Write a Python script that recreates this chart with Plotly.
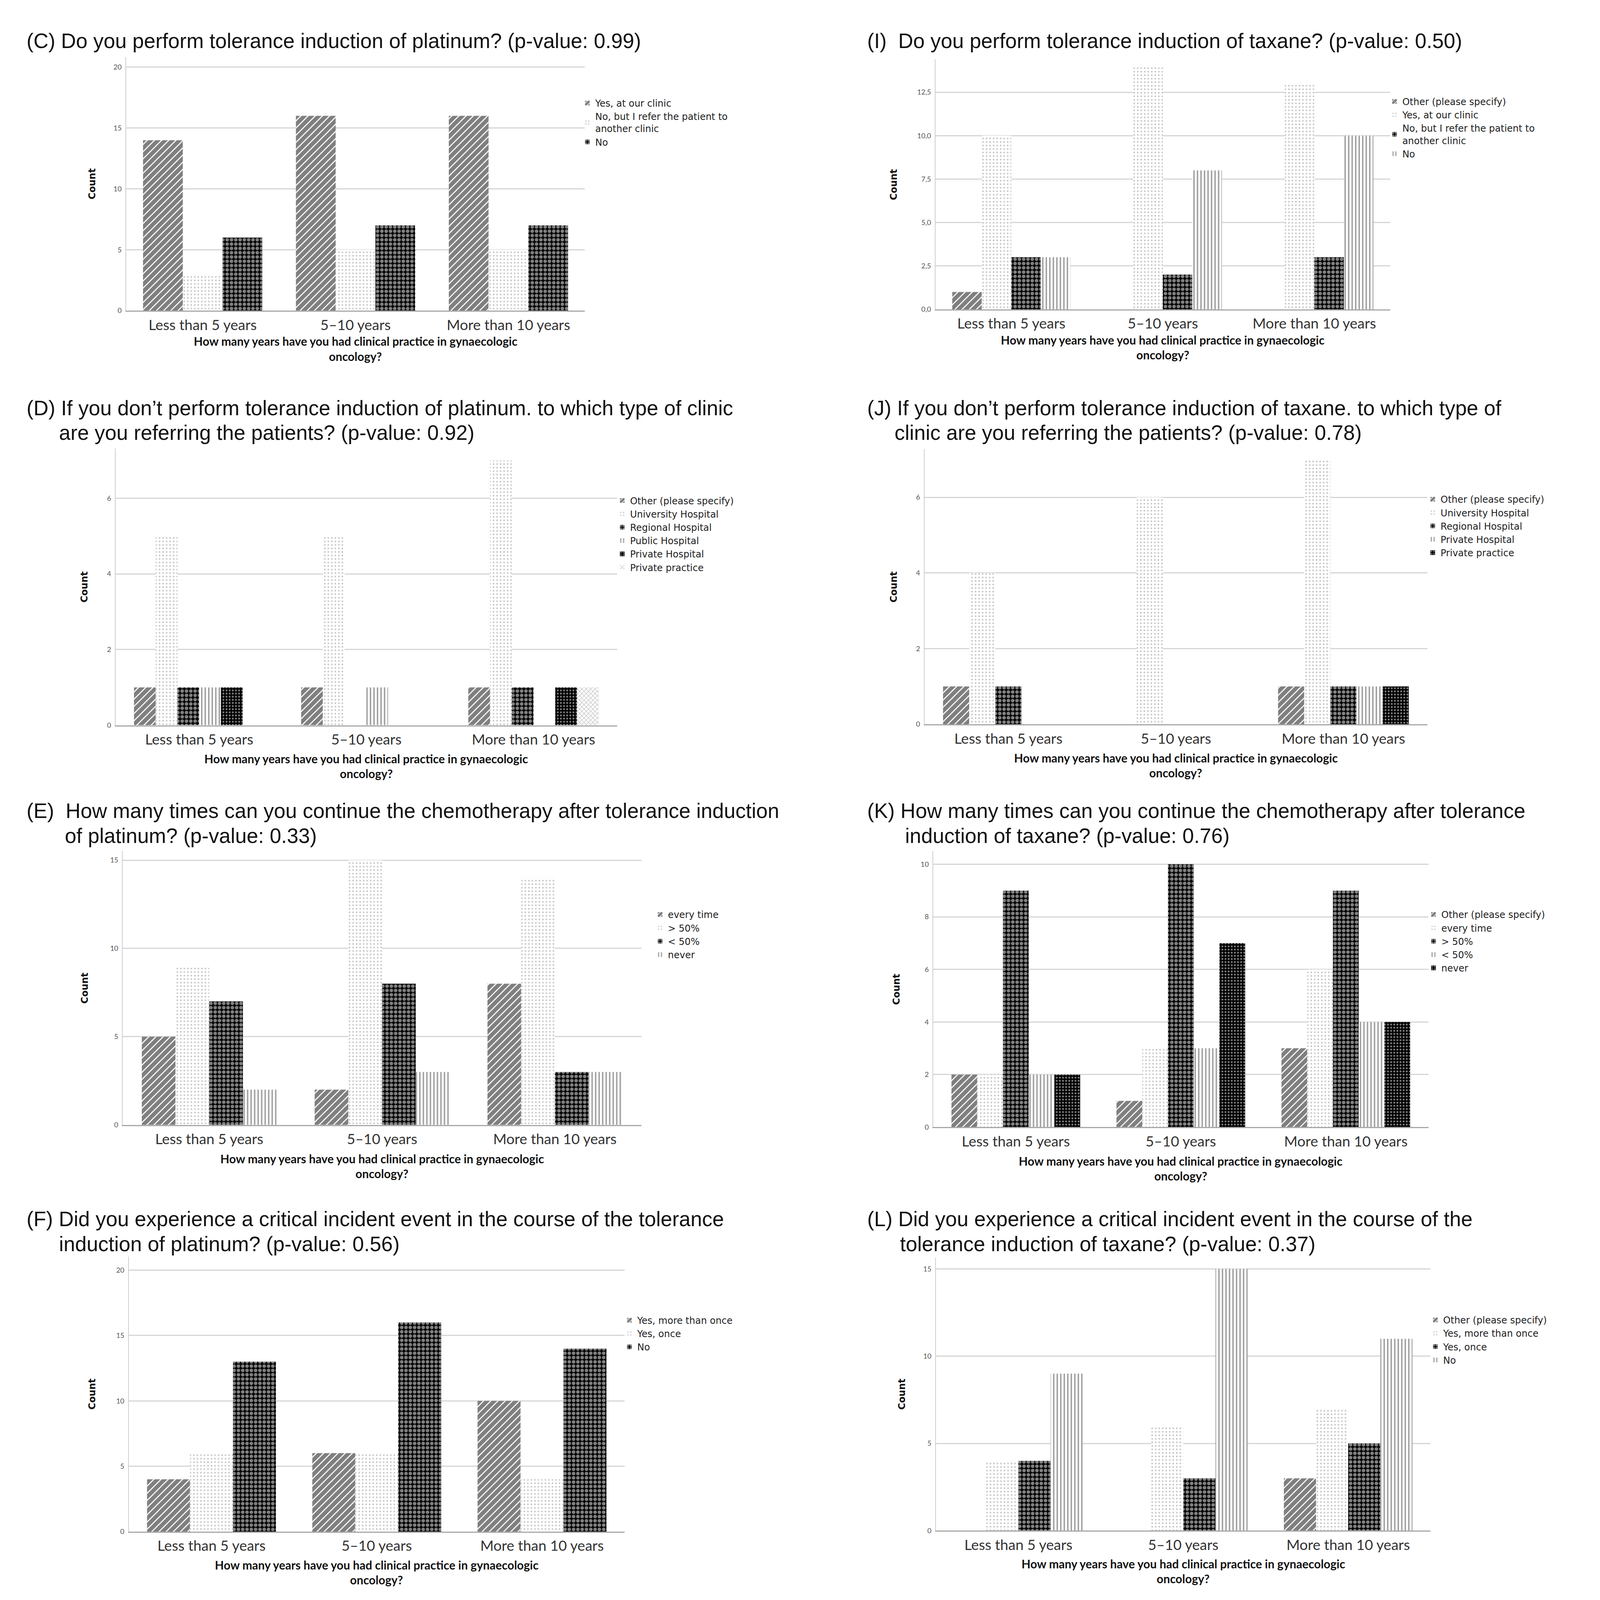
import plotly.graph_objects as go

# Reference design space (positions are given in this space, converted to paper fractions)
REF_W, REF_H = 4208, 5000
# Rendered figure size (the captured area is about 4096 x 4096 px)
FIG_W, FIG_H = 4080, 4080

years = ["Less than 5 years", "5–10 years", "More than 10 years"]

# (C) platinum tolerance induction
c_names = ["Yes, at our clinic", "No, but I refer the patient to<br>another clinic", "No"]
c_yes_clinic = [14, 16, 16]
c_refer = [3, 5, 5]
c_no = [6, 7, 7]

# (I) taxane tolerance induction
i_names = ["Other (please specify)", "Yes, at our clinic", "No, but I refer the patient to<br>another clinic", "No"]
i_other = [1, 0, 0]
i_yes_clinic = [10, 14, 13]
i_refer = [3, 2, 3]
i_no = [3, 8, 10]

# (D) referral clinic, platinum
d_names = ["Other (please specify)", "University Hospital", "Regional Hospital", "Public Hospital", "Private Hospital", "Private practice"]
d_other = [1, 1, 1]
d_university = [5, 5, 7]
d_regional = [1, 0, 1]
d_public = [1, 1, 0]
d_private_hosp = [1, 0, 1]
d_private_practice = [0, 0, 1]

# (J) referral clinic, taxane
j_names = ["Other (please specify)", "University Hospital", "Regional Hospital", "Private Hospital", "Private practice"]
j_other = [1, 0, 1]
j_university = [4, 6, 7]
j_regional = [1, 0, 1]
j_private_hosp = [0, 0, 1]
j_private_practice = [0, 0, 1]

# (E) continue chemo, platinum
e_names = ["every time", "> 50%", "< 50%", "never"]
e_every = [5, 2, 8]
e_gt50 = [9, 15, 14]
e_lt50 = [7, 8, 3]
e_never = [2, 3, 3]

# (K) continue chemo, taxane
k_names = ["Other (please specify)", "every time", "> 50%", "< 50%", "never"]
k_other = [2, 1, 3]
k_every = [2, 3, 6]
k_gt50 = [9, 10, 9]
k_lt50 = [2, 3, 4]
k_never = [2, 7, 4]

# (F) critical incident, platinum
f_names = ["Yes, more than once", "Yes, once", "No"]
f_more = [4, 6, 10]
f_once = [6, 6, 4]
f_no = [13, 16, 14]

# (L) critical incident, taxane
l_names = ["Other (please specify)", "Yes, more than once", "Yes, once", "No"]
l_other = [0, 0, 3]
l_more = [4, 6, 7]
l_once = [4, 3, 5]
l_no = [9, 15, 11]

i_ticks = [0, 2.5, 5, 7.5, 10, 12.5]
i_ticktext = ["0,0", "2,5", "5,0", "7,5", "10,0", "12,5"]

PATTERNS = [
    dict(shape="/", fgcolor="black", bgcolor="white", solidity=0.8, size=13),
    dict(shape=".", fgcolor="#8c8c8c", bgcolor="white", solidity=0.18, size=9),
    dict(shape=".", fgcolor="white", bgcolor="black", solidity=0.55, size=11),
    dict(shape="|", fgcolor="#3c3c3c", bgcolor="white", solidity=0.4, size=9),
    dict(shape=".", fgcolor="white", bgcolor="black", solidity=0.3, size=8),
    dict(shape="x", fgcolor="#9a9a9a", bgcolor="white", solidity=0.35, size=8),
]

panels = [
    dict(t1="(C) Do you perform tolerance induction of platinum? (p-value: 0.99)", t2=None,
         names=c_names, vals=[c_yes_clinic, c_refer, c_no],
         x0=325, x1=1536, y0=967, ytop=170, ymax=20.82, dtick=5,
         tx1=60, tx2=None, ty1=118, ty2=None, cx=235, leg=(1544, 305), xt=(96, 143)),
    dict(t1="(I)  Do you perform tolerance induction of taxane? (p-value: 0.50)", t2=None,
         names=i_names, vals=[i_other, i_yes_clinic, i_refer, i_no],
         x0=2462, x1=3662, y0=963, ytop=177, ymax=14.39, dtick=None,
         tx1=2279, tx2=None, ty1=118, ty2=None, cx=2352, leg=(3675, 300), xt=(96, 143)),
    dict(t1="(D) If you don’t perform tolerance induction of platinum. to which type of clinic",
         t2="are you referring the patients? (p-value: 0.92)",
         names=d_names, vals=[d_other, d_university, d_regional, d_public, d_private_hosp, d_private_practice],
         x0=297, x1=1621, y0=2271, ytop=1400, ymax=7.32, dtick=2,
         tx1=60, tx2=145, ty1=1273, ty2=1351, cx=215, leg=(1636, 1555), xt=(105, 152)),
    dict(t1="(J) If you don’t perform tolerance induction of taxane. to which type of",
         t2="clinic are you referring the patients? (p-value: 0.78)",
         names=j_names, vals=[j_other, j_university, j_regional, j_private_hosp, j_private_practice],
         x0=2433, x1=3760, y0=2268, ytop=1403, ymax=7.27, dtick=2,
         tx1=2279, tx2=2352, ty1=1273, ty2=1351, cx=2352, leg=(3776, 1551), xt=(105, 152)),
    dict(t1="(E)  How many times can you continue the chemotherapy after tolerance induction",
         t2="of platinum? (p-value: 0.33)",
         names=e_names, vals=[e_every, e_gt50, e_lt50, e_never],
         x0=316, x1=1685, y0=3528, ytop=2666, ymax=15.53, dtick=5,
         tx1=60, tx2=161, ty1=2540, ty2=2618, cx=215, leg=(1736, 2857), xt=(106, 153)),
    dict(t1="(K) How many times can you continue the chemotherapy after tolerance",
         t2="induction of taxane? (p-value: 0.76)",
         names=k_names, vals=[k_other, k_every, k_gt50, k_lt50, k_never],
         x0=2456, x1=3763, y0=3535, ytop=2667, ymax=10.5, dtick=2,
         tx1=2279, tx2=2379, ty1=2540, ty2=2618, cx=2359, leg=(3778, 2857), xt=(106, 153)),
    dict(t1="(F) Did you experience a critical incident event in the course of the tolerance",
         t2="induction of platinum? (p-value: 0.56)",
         names=f_names, vals=[f_more, f_once, f_no],
         x0=332, x1=1641, y0=4807, ytop=3942, ymax=21.04, dtick=5,
         tx1=60, tx2=145, ty1=3824, ty2=3902, cx=235, leg=(1655, 4133), xt=(104, 151)),
    dict(t1="(L) Did you experience a critical incident event in the course of the",
         t2="tolerance induction of taxane? (p-value: 0.37)",
         names=l_names, vals=[l_other, l_more, l_once, l_no],
         x0=2463, x1=3769, y0=4804, ytop=3946, ymax=15.64, dtick=5,
         tx1=2279, tx2=2366, ty1=3824, ty2=3902, cx=2373, leg=(3783, 4132), xt=(104, 151)),
]


def px(x):
    return x / REF_W


def py(y):
    return 1 - y / REF_H


fig = go.Figure()
annotations = []
layout = dict(
    width=FIG_W, height=FIG_H, paper_bgcolor="white", plot_bgcolor="white",
    margin=dict(l=0, r=0, t=0, b=0), barmode="group", bargap=0.22, bargroupgap=0,
    showlegend=True,
)

TITLE_FONT = dict(family="Liberation Sans, Arial, sans-serif", size=53, color="#111111")
XT_FONT = dict(family="Lato, sans-serif", size=30, color="#111111", weight="bold")

for k, p in enumerate(panels):
    n = k + 1
    sfx = "" if n == 1 else str(n)
    legname = "legend" if n == 1 else f"legend{n}"
    for j, (name, vals) in enumerate(zip(p["names"], p["vals"])):
        fig.add_trace(go.Bar(
            x=years, y=vals, name=name,
            xaxis=f"x{sfx}", yaxis=f"y{sfx}",
            marker=dict(color="white", line=dict(width=0), pattern=PATTERNS[j]),
            legend=legname,
        ))
    yaxis = dict(
        domain=[py(p["y0"]), py(p["ytop"])], range=[0, p["ymax"]], anchor=f"x{sfx}",
        showgrid=True, gridcolor="#d6d6d6", gridwidth=3, zeroline=False,
        showline=True, linecolor="#cfcfcf", linewidth=2, ticks="",
        tickfont=dict(family="Lato, sans-serif", size=18, color="#555555"),
        ticklabelstandoff=6,
    )
    if p["dtick"] is None:
        yaxis.update(tickmode="array", tickvals=i_ticks, ticktext=i_ticktext)
    else:
        yaxis.update(dtick=p["dtick"], tick0=0)
    xaxis = dict(
        domain=[px(p["x0"]), px(p["x1"])], anchor=f"y{sfx}",
        showgrid=False, zeroline=False, showline=True, linecolor="#a8a8a8", linewidth=3,
        ticks="", tickfont=dict(family="Lato, sans-serif", size=37, color="#333333"),
        ticklabelstandoff=2,
    )
    layout[f"xaxis{sfx}"] = xaxis
    layout[f"yaxis{sfx}"] = yaxis
    lx, ly = p["leg"]
    layout[legname] = dict(
        x=px(lx - 22), y=py(ly - 18), xanchor="left", yanchor="top",
        bgcolor="rgba(0,0,0,0)", itemwidth=30, tracegroupgap=0,
        font=dict(family="DejaVu Sans, sans-serif", size=24, color="#222222"),
        traceorder="normal",
    )
    annotations.append(dict(text=p["t1"], x=px(p["tx1"]), y=py(p["ty1"]), xref="paper", yref="paper",
                            xanchor="left", yanchor="middle", showarrow=False, font=TITLE_FONT))
    if p["t2"]:
        annotations.append(dict(text=p["t2"], x=px(p["tx2"]), y=py(p["ty2"]), xref="paper", yref="paper",
                                xanchor="left", yanchor="middle", showarrow=False, font=TITLE_FONT))
    annotations.append(dict(text="<b>Count</b>", x=px(p["cx"]), y=py((p["y0"] + p["ytop"]) / 2),
                            xref="paper", yref="paper", xanchor="center", yanchor="middle",
                            textangle=-90, showarrow=False,
                            font=dict(family="DejaVu Sans, sans-serif", size=24, color="#111111")))
    cxm = (p["x0"] + p["x1"]) / 2
    annotations.append(dict(text="How many years have you had clinical practice in gynaecologic",
                            x=px(cxm), y=py(p["y0"] + p["xt"][0]), xref="paper", yref="paper",
                            xanchor="center", yanchor="middle", showarrow=False, font=XT_FONT))
    annotations.append(dict(text="oncology?",
                            x=px(cxm), y=py(p["y0"] + p["xt"][1]), xref="paper", yref="paper",
                            xanchor="center", yanchor="middle", showarrow=False, font=XT_FONT))

layout["annotations"] = annotations
fig.update_layout(**layout)
fig.write_html("out.html")
